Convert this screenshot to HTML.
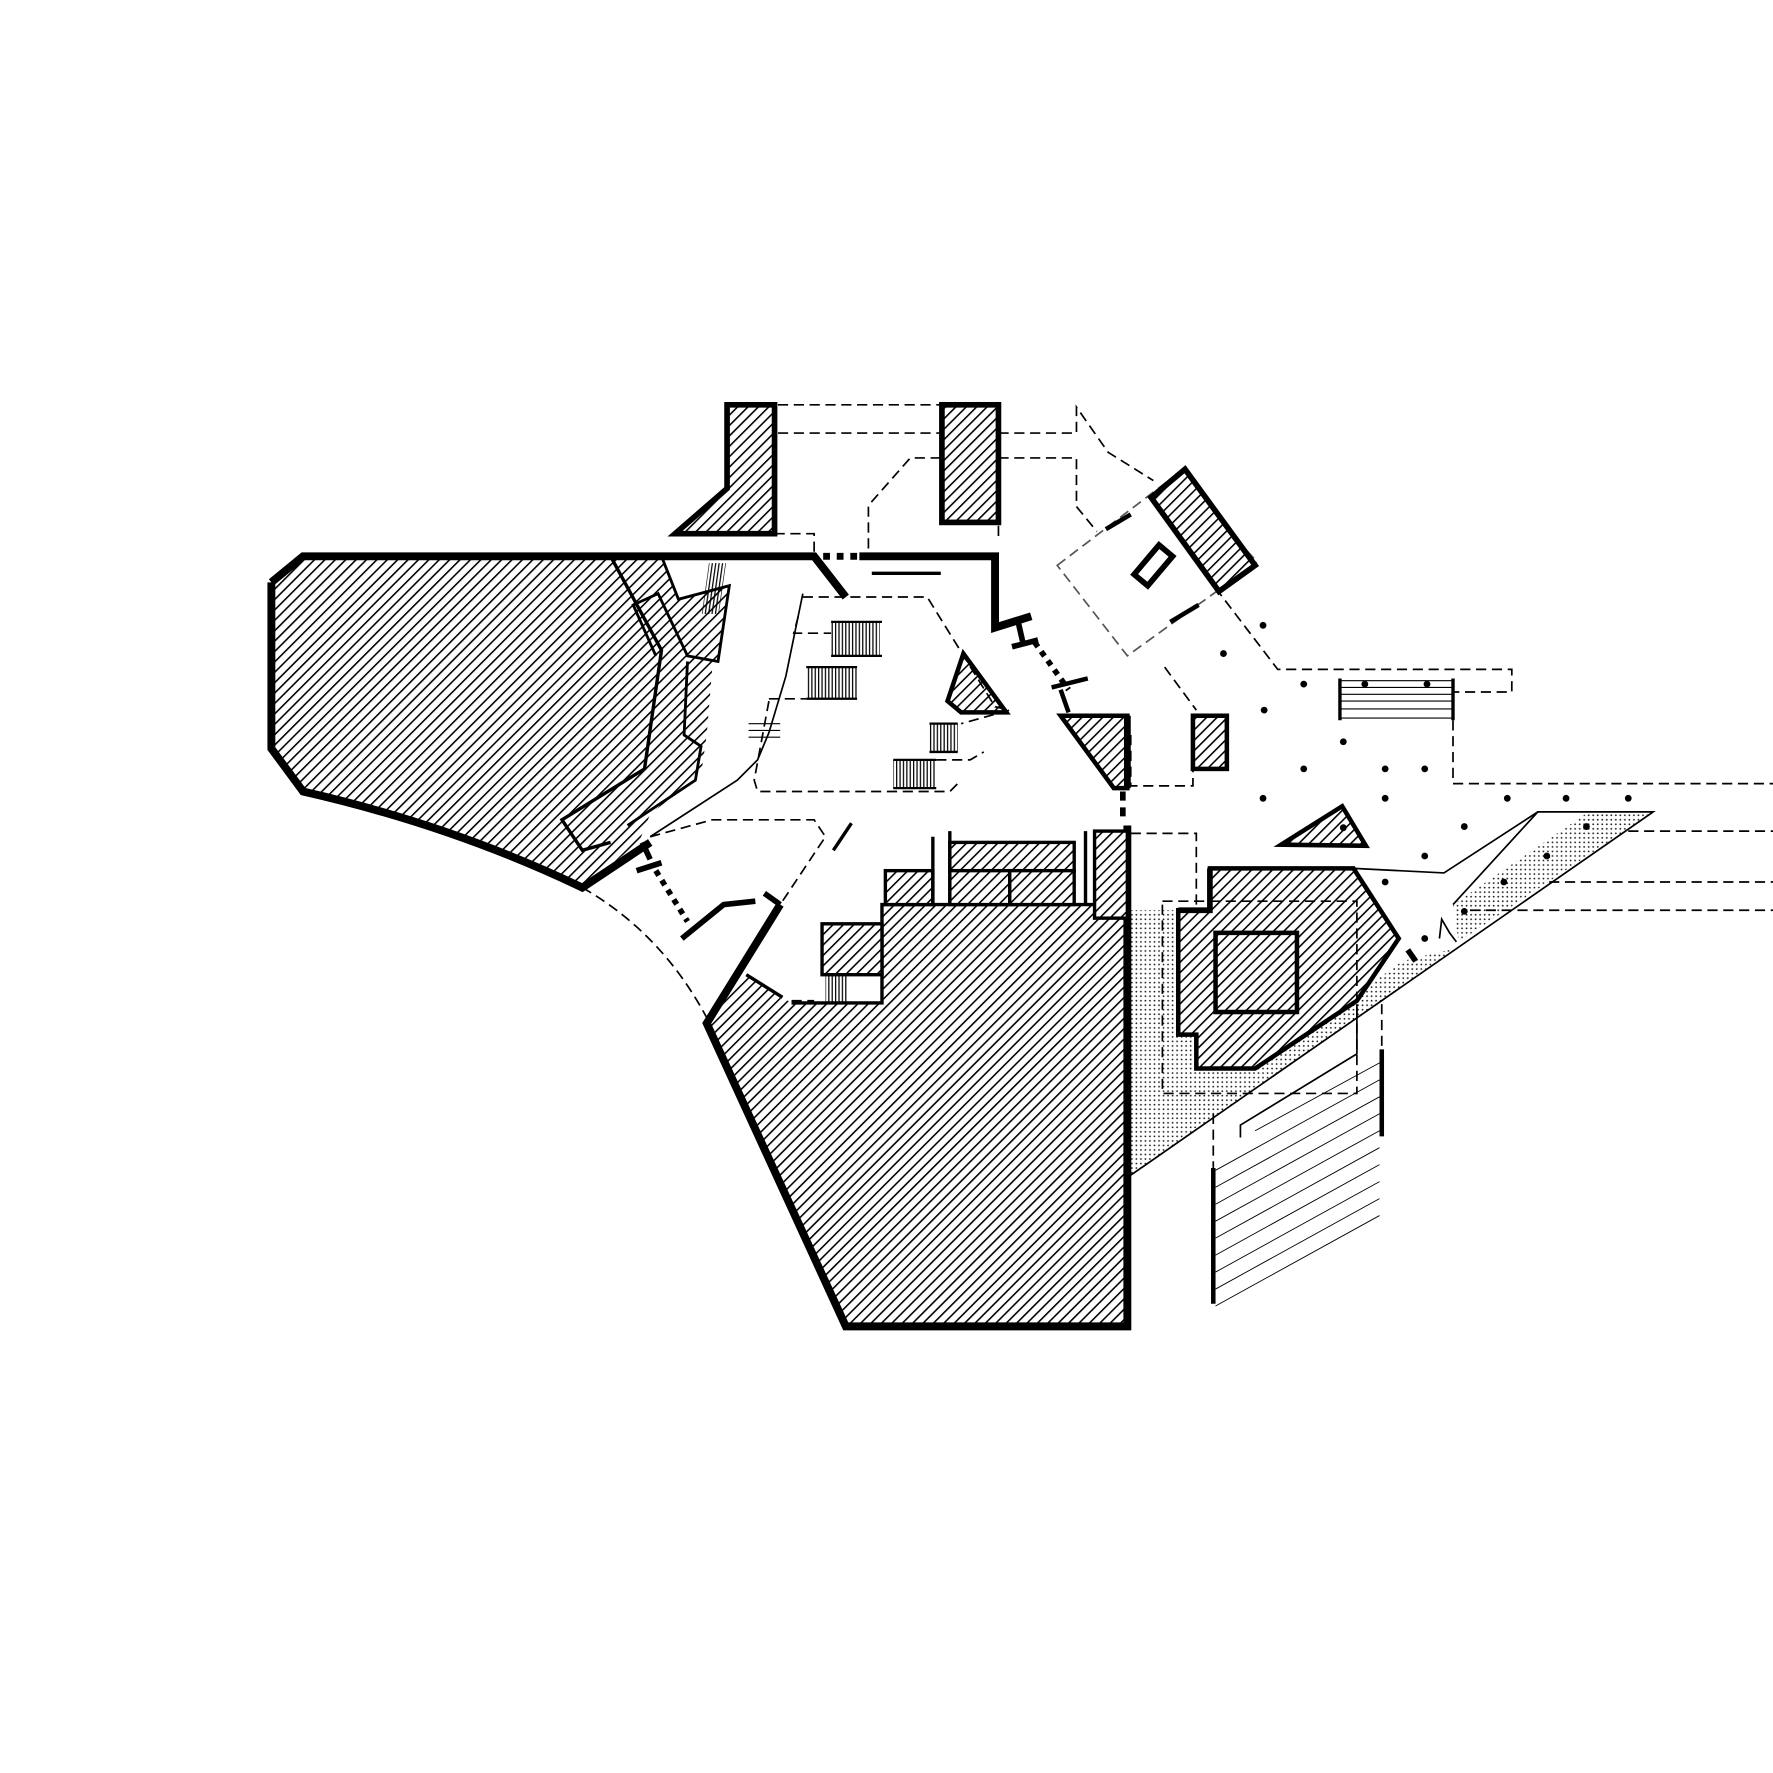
<!DOCTYPE html>
<html><head><meta charset="utf-8"><style>html,body{margin:0;padding:0;background:#fff}svg{display:block}</style></head>
<body>
<svg width="1773" height="1773" viewBox="0 0 1568 1568" xmlns="http://www.w3.org/2000/svg">
<defs>
<pattern id="h" patternUnits="userSpaceOnUse" width="6.5" height="6.5" patternTransform="rotate(45)">
<rect width="6.5" height="6.5" fill="#fff"/><line x1="0" y1="0" x2="0" y2="6.5" stroke="#000" stroke-width="2.8"/></pattern>
<pattern id="d" patternUnits="userSpaceOnUse" width="4" height="4"><rect width="4" height="4" fill="#fff"/><circle cx="1" cy="1" r="0.8" fill="#222"/></pattern>
<pattern id="v" patternUnits="userSpaceOnUse" width="3" height="10"><line x1="1" y1="0" x2="1" y2="10" stroke="#000" stroke-width="1.1"/></pattern>
</defs>
<g fill="none" stroke="#000">
<!-- stipple -->
<path d="M999,805 L1042,805 L1042,915 L1058,915 L1058,945 L1110,945 L1240,850 L1290,838 L999,1040 Z" fill="url(#d)" stroke="none"/>
<path d="M1285,800 L1405,718 L1462,718 L1290,833 Z" fill="url(#d)" stroke="none"/>
<path d="M1285,800 L1360,718 L1462,718 L999,1040" stroke="#000" stroke-width="1.5"/>
<!-- big left -->
<path d="M268,492 L585,492 L600,530 L645,518 L635,585 L630,590 L625,650 L620,685 L575,720 L565,745 L515,785 Q400,730 268,700 L240,662 L240,515 Z" fill="url(#h)" stroke="none"/>
<path d="M540,492 L585,575 L570,680 L497,725 L515,752 L540,745" stroke-width="3"/>
<path d="M585,492 L600,530 L645,518 L635,585 L608,580 L582,525 L560,535 L580,580" stroke-width="2.5"/>
<path d="M608,585 L605,650 L620,660 L615,690 L555,730" stroke-width="2.5"/>
<path d="M240,515 L268,492 L720,492 L748,528 M240,515 L240,662 L268,700 Q400,730 515,785 L575,745" stroke-width="7"/>
<!-- bottom big -->
<path d="M625,905 L660,862 L692,882 L700,887 L780,887 L780,800 L970,800 L997,812 L997,1173 L748,1173 Z" fill="url(#h)" stroke="none"/>
<path d="M690,800 L625,905 L748,1173 L997,1173 L997,730" stroke-width="7"/>
<path d="M660,862 L692,882 M700,887 L780,887 L780,800 L997,800" stroke-width="3"/>
<rect x="727" y="817" width="53" height="45" fill="url(#h)" stroke-width="3"/>
<rect x="783" y="770" width="42" height="30" fill="url(#h)" stroke-width="3"/>
<rect x="840" y="745" width="110" height="25" fill="url(#h)" stroke-width="3"/>
<rect x="840" y="770" width="53" height="30" fill="url(#h)" stroke-width="3"/>
<rect x="893" y="770" width="57" height="30" fill="url(#h)" stroke-width="3"/>
<rect x="968" y="735" width="29" height="77" fill="url(#h)" stroke-width="3"/>
<path d="M825,740 L825,800 M840,735 L840,800 M960,735 L960,800" stroke-width="3"/>
<rect x="730" y="862" width="20" height="25" fill="url(#v)" stroke="none"/>
<!-- top blocks -->
<path d="M643,358 L685,358 L685,472 L597,472 L643,432 Z" fill="url(#h)" stroke-width="5"/>
<rect x="833" y="358" width="50" height="104" fill="url(#h)" stroke-width="5"/>
<!-- rotated block -->
<path d="M935,500 L1040,420 L1112,497 L997,580 Z" stroke="#555" stroke-width="1.5" stroke-dasharray="9,5"/>
<path d="M1018,440 L1048,415 L1110,500 L1078,523 Z" fill="url(#h)" stroke-width="5"/>
<path d="M1003,508 L1025,482 L1037,492 L1015,518 Z" fill="#fff" stroke-width="5"/>
<path d="M978,468 L1000,455 M1035,550 L1060,535" stroke-width="4"/>
<!-- triangles etc -->
<path d="M852,578 L838,620 L850,630 L890,630 Z" fill="url(#h)" stroke-width="4"/>
<path d="M938,633 L997,633 L997,697 L985,697 Z" fill="url(#h)" stroke-width="4"/>
<rect x="1055" y="633" width="30" height="47" fill="url(#h)" stroke-width="4"/>
<path d="M1133,747 L1187,713 L1208,748 Z" fill="url(#h)" stroke-width="4"/>
<!-- right hatched -->
<path d="M1070,768 L1197,768 L1237,830 L1200,885 L1110,945 L1058,945 L1058,915 L1042,915 L1042,805 L1070,805 Z" fill="url(#h)" stroke-width="4"/>
<rect x="1075" y="825" width="72" height="70" fill="url(#h)" stroke-width="4"/>
<!-- thick walls -->
<path d="M760,492 L880,492 L880,555 L912,545" stroke-width="7"/>
<path d="M771,507 L832,507" stroke-width="3"/>
<path d="M728,492 L758,492" stroke-width="6" stroke-dasharray="6,6"/>
<path d="M900,548 L905,570 M895,572 L918,566" stroke-width="5"/>
<path d="M915,568 L945,610" stroke-width="5" stroke-dasharray="5,5"/>
<path d="M930,608 L962,600 M938,610 L945,630" stroke-width="4"/>
<path d="M997,633 L997,697" stroke-width="6"/>
<path d="M993,700 L993,725" stroke-width="5" stroke-dasharray="8,6"/>
<path d="M568,745 L575,760 M563,770 L585,763" stroke-width="5"/>
<path d="M580,770 L608,815" stroke-width="5" stroke-dasharray="5,5"/>
<path d="M603,830 L640,800 L668,797 M676,790 L690,800" stroke-width="5"/>
<path d="M1070,768 L1070,805 L1042,805" stroke-width="5"/>
<path d="M1245,840 L1252,850" stroke-width="5"/>
<path d="M737,752 L753,728" stroke-width="3"/>
<!-- thin lines -->
<path d="M710,525 L695,598 L680,648 L670,672 L652,690 L575,740" stroke-width="1.5"/>
<path d="M1197,768 L1277,772 L1360,718" stroke-width="1.5"/>
<path d="M1273,830 L1275,813 L1282,825 L1288,833" stroke-width="1.5"/>
<path d="M1097,1006 L1097,995 L1200,932 L1200,888" stroke-width="1.5"/>
<path d="M1073,1033 L1073,1153 M1222,928 L1222,1005" stroke-width="4"/>
<path d="M1075,1140 L1220,1060 M1075,1125 L1220,1045 M1075,1110 L1220,1030 M1075,1095 L1220,1015 M1075,1080 L1220,1000 M1075,1065 L1220,985 M1075,1050 L1220,970 M1075,1035 L1220,955 M1075,1155 L1220,1075 M1110,1000 L1220,940" stroke-width="0.8"/>
<!-- stairs -->
<rect x="735" y="550" width="43" height="30" fill="url(#v)" stroke="none"/>
<rect x="713" y="590" width="45" height="28" fill="url(#v)" stroke="none"/>
<rect x="822" y="640" width="25" height="25" fill="url(#v)" stroke="none"/>
<rect x="790" y="672" width="38" height="25" fill="url(#v)" stroke="none"/>
<rect x="697" y="498" width="15" height="45" fill="url(#v)" stroke="none" transform="skewX(-8)"/>
<path d="M735,550 L780,550 M735,580 L780,580 M713,590 L758,590 M713,618 L758,618 M822,640 L847,640 M822,665 L847,665 M790,672 L828,672 M790,697 L828,697" stroke-width="2"/>
<path d="M662,640 L690,640 M662,646 L690,646 M662,652 L690,652" stroke-width="1"/>
<path d="M1185,602 L1285,602 M1185,635 L1285,635 M1185,608 L1285,608 M1185,614 L1285,614 M1185,620 L1285,620 M1185,627 L1285,627" stroke-width="1"/>
<path d="M1185,600 L1185,637 M1285,600 L1285,637" stroke-width="3"/>
<!-- dashed lines -->
<g stroke-width="1.5" stroke-dasharray="9,5">
<path d="M688,358 L833,358 M688,383 L833,383 M685,472 L720,472 L720,490"/>
<path d="M883,383 L952,383 L952,360 L980,400 L1020,425"/>
<path d="M883,405 L952,405 L952,448 L970,470"/>
<path d="M832,405 L805,405 L768,447 L768,490 M883,465 L883,475"/>
<path d="M710,528 L820,528 L880,625 L893,628 L850,640"/>
<path d="M706,545 L702,560 L735,560"/>
<path d="M680,618 L713,618 M680,620 L667,690 L670,700 L840,700 L850,690 M828,672 L858,672 L870,665"/>
<path d="M1075,520 L1130,592 L1337,592 L1337,612 L1285,612"/>
<path d="M1030,590 L1058,628 M1000,650 L1000,695 L1055,695 L1055,680"/>
<path d="M1285,637 L1285,693 L1568,693 M1440,735 L1568,735 M1370,780 L1568,780 M1300,805 L1568,805"/>
<path d="M1000,737 L1058,737 L1058,800"/>
<path d="M1028,797 L1200,797 L1200,967 L1028,967 Z"/>
<path d="M1073,985 L1073,1033"/>
<path d="M575,740 L630,725 L720,725 L730,740 L690,800"/>
<path d="M515,785 Q585,825 625,900"/>
<path d="M1222,888 L1222,925"/>
<path d="M700,885 L720,885"/>
</g>
</g>
<!-- dots -->
<g fill="#000">
<circle cx="1117" cy="553" r="3"/><circle cx="1082" cy="578" r="3"/><circle cx="1153" cy="605" r="3"/><circle cx="1207" cy="605" r="3"/><circle cx="1262" cy="605" r="3"/>
<circle cx="1118" cy="628" r="3"/><circle cx="1188" cy="656" r="3"/><circle cx="1153" cy="680" r="3"/><circle cx="1225" cy="680" r="3"/><circle cx="1260" cy="680" r="3"/>
<circle cx="1117" cy="706" r="3"/><circle cx="1188" cy="732" r="3"/><circle cx="1225" cy="706" r="3"/><circle cx="1295" cy="731" r="3"/><circle cx="1333" cy="706" r="3"/>
<circle cx="1385" cy="706" r="3"/><circle cx="1440" cy="706" r="3"/><circle cx="1260" cy="757" r="3"/><circle cx="1225" cy="780" r="3"/><circle cx="1260" cy="830" r="3"/>
<circle cx="1295" cy="806" r="3"/><circle cx="1330" cy="780" r="3"/><circle cx="1368" cy="757" r="3"/><circle cx="1403" cy="731" r="3"/>
</g>
</svg>
</body></html>
